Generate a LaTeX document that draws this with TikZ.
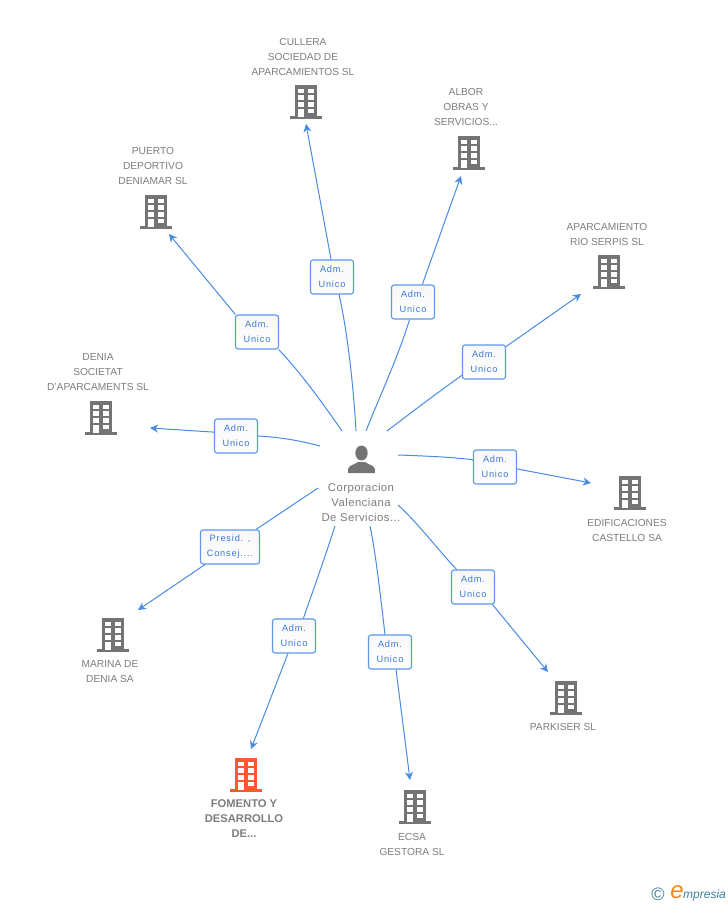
\documentclass[tikz,border=0pt]{standalone}
\usepackage{fontspec}
\setmainfont{Liberation Sans}
\newfontfamily\rolefont[LetterSpace=9]{Liberation Sans}
\newfontfamily\centerfont[LetterSpace=4]{Liberation Sans}
\usetikzlibrary{arrows.meta}
\definecolor{edgeblue}{HTML}{4A8BE3}
\definecolor{boxblue}{HTML}{5E98E8}
\definecolor{labelblue}{HTML}{3A78D8}
\definecolor{txtgrey}{HTML}{7E7E7E}
\definecolor{icongrey}{HTML}{747474}
\definecolor{iconorange}{HTML}{FF5A2C}
\definecolor{logoteal}{HTML}{3F7F97}
\definecolor{logoorange}{HTML}{F28A1E}
\tikzset{
  rolebox/.style={draw=boxblue,line width=1.1pt,rounded corners=2.5pt,top color=gray!6,bottom color=white,
    minimum width=43pt,minimum height=34pt,inner sep=0pt,align=center,text=labelblue,
    font=\rolefont\fontsize{9.2}{15}\selectfont},
  entname/.style={align=center,text=txtgrey,inner sep=0pt,font=\fontsize{10.2}{15}\selectfont},
  linkline/.style={draw=edgeblue,line width=1pt},
  linkarrow/.style={linkline,-{Stealth[length=8pt,width=8pt,inset=2.5pt]}},
  pics/bldg/.style={code={
    \fill[#1] (-11,-17) rectangle (11,15);
    \fill[#1] (-16,13.7) rectangle (16,16.8);
    \foreach \cx in {-5,5}{\foreach \cy in {-11,-4.3,2.4}{
      \fill[white] (\cx-2.6,\cy-2.3) rectangle (\cx+2.6,\cy+2.3);}}
    \fill[white] (2.4,6.9) rectangle (7.6,11.4);
    \fill[white] (-7.6,6.9) rectangle (-2.4,15);
  }},
}
\begin{document}
\begin{tikzpicture}[x=1pt,y=-1pt]
\useasboundingbox (0,0) rectangle (728,905);
\fill[white] (0,0) rectangle (728,905);

% central person
\fill[icongrey] (348.2,473) -- (348.2,469) .. controls (349,465) and (354,465) .. (358,462)
  -- (365,462) .. controls (369,465) and (374,465) .. (374.8,469) -- (374.8,473) -- cycle;
\fill[icongrey] (361.5,453) ellipse [x radius=6.2,y radius=7.5];
\node[entname,font=\centerfont\fontsize{11.3}{15}\selectfont] (center) at (361,502) {Corporacion\\Valenciana\\De Servicios...};

% buildings
\pic at (306,102) {bldg=icongrey};
\pic at (469,153) {bldg=icongrey};
\pic at (609,272) {bldg=icongrey};
\pic at (630,493) {bldg=icongrey};
\pic at (566,698) {bldg=icongrey};
\pic at (415,807) {bldg=icongrey};
\pic at (246,775) {bldg=iconorange};
\pic at (113,635) {bldg=icongrey};
\pic at (101,418) {bldg=icongrey};
\pic at (156,212) {bldg=icongrey};

% names
\node[entname] (ncullera) at (303,57) {CULLERA\\SOCIEDAD DE\\APARCAMIENTOS SL};
\node[entname] (nalbor) at (466,107) {ALBOR\\OBRAS Y\\SERVICIOS...};
\node[entname] (naparc) at (607,234) {APARCAMIENTO\\RIO SERPIS SL};
\node[entname] (nedif) at (627,530) {EDIFICACIONES\\CASTELLO SA};
\node[entname] (npark) at (563,727) {PARKISER SL};
\node[entname] (necsa) at (412,844) {ECSA\\GESTORA SL};
\node[entname,font=\fontsize{11.2}{15}\selectfont\bfseries] (nfom) at (244,819) {FOMENTO Y\\DESARROLLO\\DE...};
\node[entname] (nmar) at (110,672) {MARINA DE\\DENIA SA};
\node[entname] (ndenia) at (98,372) {DENIA\\SOCIETAT\\D'APARCAMENTS SL};
\node[entname] (npuerto) at (153,166) {PUERTO\\DEPORTIVO\\DENIAMAR SL};

% role boxes
\node[rolebox] (b1) at (332,277) {\raisebox{-1pt}{Adm.}\\\raisebox{-1pt}{Unico}};
\node[rolebox] (b2) at (413,302) {\raisebox{-1pt}{Adm.}\\\raisebox{-1pt}{Unico}};
\node[rolebox] (b3) at (484,362) {\raisebox{-1pt}{Adm.}\\\raisebox{-1pt}{Unico}};
\node[rolebox] (b4) at (495,467) {\raisebox{-1pt}{Adm.}\\\raisebox{-1pt}{Unico}};
\node[rolebox] (b5) at (473,587) {\raisebox{-1pt}{Adm.}\\\raisebox{-1pt}{Unico}};
\node[rolebox] (b6) at (390,652) {\raisebox{-1pt}{Adm.}\\\raisebox{-1pt}{Unico}};
\node[rolebox] (b7) at (294,636) {\raisebox{-1pt}{Adm.}\\\raisebox{-1pt}{Unico}};
\node[rolebox,minimum width=59pt] (b8) at (230,547) {\raisebox{-1pt}{Presid. ,}\\\raisebox{-1pt}{Consej....}};
\node[rolebox] (b9) at (236,436) {\raisebox{-1pt}{Adm.}\\\raisebox{-1pt}{Unico}};
\node[rolebox] (b10) at (257,332) {\raisebox{-1pt}{Adm.}\\\raisebox{-1pt}{Unico}};

% free ends
\coordinate (s1) at (356,431); \coordinate (e1) at (306,124);
\coordinate (s2) at (366,431); \coordinate (e2) at (461,176);
\coordinate (s3) at (387,431); \coordinate (e3) at (581,294);
\coordinate (s4) at (398,455); \coordinate (e4) at (591,483);
\coordinate (s5) at (398,505); \coordinate (e5) at (548,672);
\coordinate (s6) at (370,526); \coordinate (e6) at (410,780);
\coordinate (s7) at (335,526); \coordinate (e7) at (251,749);
\coordinate (s8) at (318,488); \coordinate (e8) at (138,610);
\coordinate (s9) at (320,446); \coordinate (e9) at (150,428);
\coordinate (s10) at (342,431); \coordinate (e10) at (169,234);

% connectors
\draw[linkline] (s1) .. controls (353,380) and (347,330) .. (b1.-68);
\draw[linkarrow] (b1.93) -- (e1);
\draw[linkline] (s2) .. controls (378,400) and (397,360) .. (b2.-101);
\draw[linkarrow] (b2.62) -- (e2);
\draw[linkline] (s3) .. controls (412,412) and (437,393) .. (b3.-149);
\draw[linkarrow] (b3.35) -- (e3);
\draw[linkline] (s4) .. controls (425,456) and (452,457) .. (b4.162);
\draw[linkarrow] (b4.-5) -- (e4);
\draw[linkline] (s5) .. controls (418,523) and (438,550) .. (b5.133);
\draw[linkarrow] (b5.-42) -- (e5);
\draw[linkline] (s6) .. controls (376,555) and (381,600) .. (b6.106);
\draw[linkarrow] (b6.-71) -- (e6);
\draw[linkline] (s7) .. controls (325,557) and (314,588) .. (b7.62);
\draw[linkarrow] (b7.-109) -- (e7);
\draw[linkline] (s8) -- (b8.34);
\draw[linkarrow] (b8.-145) -- (e8);
\draw[linkline] (s9) .. controls (298,440) and (277,437) .. (b9.0);
\draw[linkarrow] (b9.170) -- (e9);
\draw[linkline] (s10) .. controls (322,402) and (300,372) .. (b10.-39);
\draw[linkarrow] (b10.141) -- (e10);

% logo
\node[inner sep=0pt,text=logoteal,font=\fontsize{18}{18}\selectfont] (copy) at (658,894) {©};
\node[inner sep=0pt,text=logoorange,font=\fontsize{24}{24}\selectfont\itshape] (eletter) at (677,892) {e};
\node[inner sep=0pt,anchor=west,text=logoteal,font=\fontsize{12}{12}\selectfont\itshape] (logotext) at (683,895) {mpresia};
\end{tikzpicture}
\end{document}
